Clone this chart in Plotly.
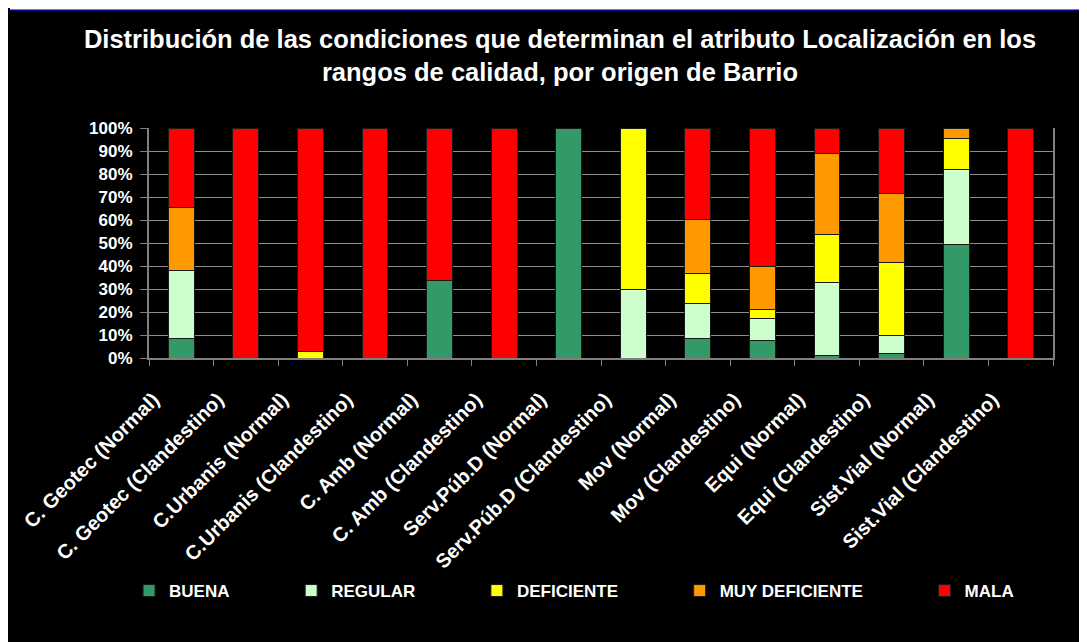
import plotly.graph_objects as go

# categories on the x axis
barrios = [
    "C. Geotec (Normal)", "C. Geotec (Clandestino)",
    "C.Urbanis (Normal)", "C.Urbanis (Clandestino)",
    "C. Amb (Normal)", "C. Amb (Clandestino)",
    "Serv.Púb.D (Normal)", "Serv.Púb.D (Clandestino)",
    "Mov (Normal)", "Mov (Clandestino)",
    "Equi (Normal)", "Equi (Clandestino)",
    "Sist.Vial (Normal)", "Sist.Vial (Clandestino)",
]

# share of each quality range (%)
buena = [8.3, 0, 0, 0, 33.5, 0, 100, 0, 8.3, 7.7, 1.3, 1.9, 49.2, 0]
regular = [29.6, 0, 0, 0, 0, 0, 0, 29.6, 15.5, 9.3, 31.5, 7.8, 32.7, 0]
deficiente = [0, 0, 2.8, 0, 0, 0, 0, 70.4, 12.8, 4.0, 20.8, 32.0, 13.5, 0]
muy_deficiente = [27.6, 0, 0, 0, 0, 0, 0, 0, 23.5, 18.6, 35.2, 30.0, 4.6, 0]
mala = [34.5, 100, 97.2, 100, 66.5, 100, 0, 0, 39.9, 60.4, 11.2, 28.3, 0, 100]

series = [
    ("BUENA", buena, "#339966"),
    ("REGULAR", regular, "#CCFFCC"),
    ("DEFICIENTE", deficiente, "#FFFF00"),
    ("MUY DEFICIENTE", muy_deficiente, "#FF9900"),
    ("MALA", mala, "#FF0000"),
]

FONT = "Arial, Liberation Sans, sans-serif"
W, H = 1079, 634          # page is 1087x642 minus the 8px body margin
L, R, T, B = 139, 34, 120, 284
PLOT_H = H - T - B

fig = go.Figure()

for i, (name, values, color) in enumerate(series):
    # non-breaking spaces widen the gap between legend entries
    pad = "" if i == len(series) - 1 else "\u00a0" * 12
    fig.add_trace(go.Bar(
        x=barrios,
        y=[v / 100 for v in values],
        name=name + pad,
        marker=dict(color=color, line=dict(color="#1a1a1a", width=1)),
    ))

fig.update_layout(
    barmode="stack",
    bargap=0.6,
    width=W,
    height=H,
    margin=dict(l=L, r=R, t=T, b=B),
    paper_bgcolor="black",
    plot_bgcolor="black",
    title=dict(
        text="Distribución de las condiciones que determinan el atributo Localización en los<br>"
             "rangos de calidad, por origen de Barrio",
        font=dict(family=FONT, size=25.5, color="white", weight="bold"),
        x=552 / W, xanchor="center", xref="container",
        y=1 - 40 / H, yanchor="top", yref="container",
    ),
    legend=dict(
        orientation="h",
        x=-20 / (W - L - R), xanchor="left",
        y=-(583 - (H - B)) / PLOT_H, yanchor="middle",
        font=dict(family=FONT, size=17, color="white", weight="bold"),
        bgcolor="rgba(0,0,0,0)",
        traceorder="normal",
    ),
    font=dict(family=FONT, color="white"),
    # white strip and thin navy rule along the top edge
    shapes=[
        dict(type="rect", layer="below", xref="paper", yref="paper",
             xsizemode="pixel", ysizemode="pixel", xanchor=0, yanchor=0,
             x0=-L, x1=W - L, y0=H - B - 2, y1=H - B,
             fillcolor="white", line=dict(width=0)),
        dict(type="line", layer="below", xref="paper", yref="paper",
             xsizemode="pixel", ysizemode="pixel", xanchor=0, yanchor=0,
             x0=-L, x1=W - L, y0=H - B - 2.5, y1=H - B - 2.5,
             line=dict(color="#000080", width=2)),
    ],
)

fig.update_xaxes(
    tickangle=-45,
    tickfont=dict(family=FONT, size=20, color="white", weight="bold"),
    ticklabelshift=-28,
    ticklabelstandoff=20,
    showline=True, linecolor="#808080", linewidth=2,
    ticks="outside", tickson="boundaries", ticklen=6, tickcolor="#808080",
    showgrid=False,
)

fig.update_yaxes(
    range=[0, 1],
    dtick=0.1,
    tickformat=".0%",
    tickfont=dict(family=FONT, size=17, color="white", weight="bold"),
    ticklabelstandoff=4,
    showgrid=True, gridcolor="#8c8c8c", gridwidth=1,
    showline=True, linecolor="#808080", linewidth=2, mirror=True,
    ticks="outside", ticklen=7, tickcolor="#808080",
    zeroline=False,
)

fig.write_html("out.html")
